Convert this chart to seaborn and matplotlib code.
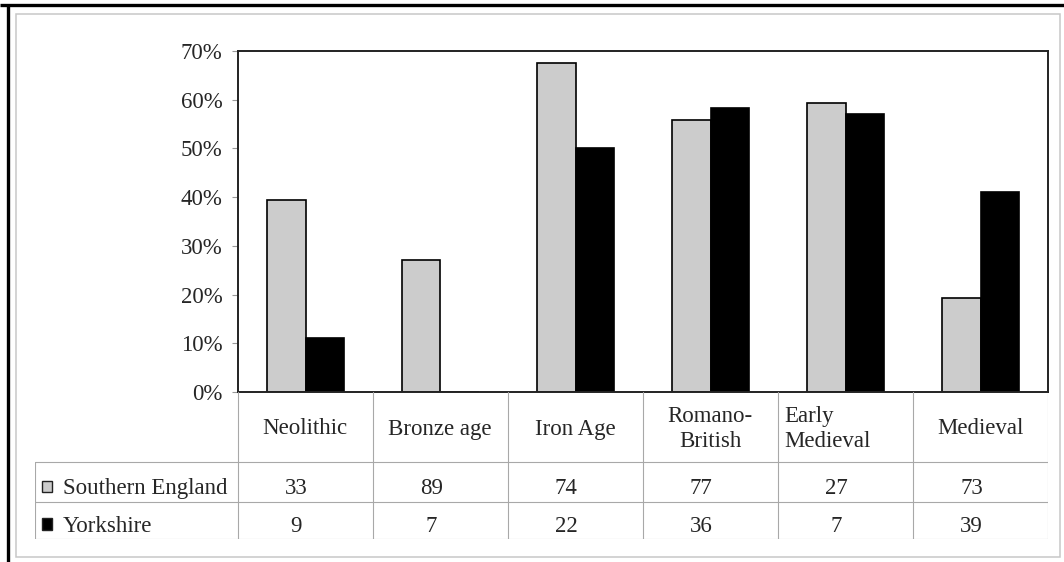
import numpy as np
import pandas as pd
import matplotlib
matplotlib.use("Agg")
import matplotlib.pyplot as plt
from matplotlib.patches import Rectangle
import seaborn as sns

# data (share of sites, %) and the table counts
periods = ["Neolithic", "Bronze age", "Iron Age", "Romano-\nBritish", "Early\nMedieval", "Medieval"]
regions = ["Southern England", "Yorkshire"]
pct_south = [39.4, 27.0, 67.6, 55.8, 59.3, 19.2]
pct_yorks = [11.1, 0.0, 50.0, 58.3, 57.1, 41.0]
n_south = [33, 89, 74, 77, 27, 73]
n_yorks = [9, 7, 22, 36, 7, 39]
y_ticks = [0, 10, 20, 30, 40, 50, 60, 70]
colors = ["#cccccc", "#000000"]
label_align = ["center", "center", "center", "center", "left", "center"]

df = pd.DataFrame({
    "period": periods * 2,
    "region": [regions[0]] * len(periods) + [regions[1]] * len(periods),
    "pct": pct_south + pct_yorks,
})

sns.set_style("white")
plt.rcParams["font.family"] = ["Liberation Serif", "DejaVu Serif"]
FS = 16.5

W, H = 1064, 562
fig = plt.figure(figsize=(W / 100, H / 100), dpi=100)


def px_box(x0, y0, x1, y1):
    return [x0 / W, 1 - y1 / H, (x1 - x0) / W, (y1 - y0) / H]


# background frame (black top/left edge, light grey inner border)
bg = fig.add_axes([0, 0, 1, 1])
bg.set_xlim(0, W)
bg.set_ylim(H, 0)
bg.axis("off")
bg.plot([0, W], [5, 5], color="black", lw=2.4, solid_capstyle="butt")
bg.plot([7.5, 7.5], [4, H], color="black", lw=2.4, solid_capstyle="butt")
bg.add_patch(Rectangle((16, 14), 1060 - 16, 557 - 14, fill=False, edgecolor="#c8c8c8", lw=1.1))

# main bar chart
ax = fig.add_axes(px_box(238, 51, 1048, 392))
sns.barplot(data=df, x="period", y="pct", hue="region", order=periods, hue_order=regions,
            palette=colors, saturation=1, width=0.57, errorbar=None,
            edgecolor="black", linewidth=1.2, legend=False, ax=ax)
ax.set_xlim(-0.5, len(periods) - 0.5)
ax.set_ylim(0, 70)
ax.set_yticks(y_ticks)
ax.set_yticklabels([f"{v}%" for v in y_ticks], fontsize=FS, va="center_baseline")
ax.set_xticks([])
ax.set_xlabel("")
ax.set_ylabel("")
for sp in ax.spines.values():
    sp.set_visible(True)
    sp.set_color("#222222")
    sp.set_linewidth(1.4)
ax.tick_params(axis="y", left=True, length=4.3, width=0.8, color="#999999", pad=7, direction="out")

# data table under the chart
tax = fig.add_axes(px_box(35, 392, 1048, 539))
tax.set_xlim(-2.0, len(periods) - 0.5)
tax.set_ylim(147, 0)
tax.axis("off")
px = (len(periods) + 1.5) / (1048 - 35)  # data units per pixel
grid_kw = dict(color="#a8a8a8", lw=0.8)

for yy in [70, 110, 147]:
    tax.plot([-2.0, len(periods) - 0.5], [yy, yy], **grid_kw)
tax.plot([-2.0, -2.0], [70, 147], **grid_kw)
for i in range(len(periods) + 1):
    tax.plot([i - 0.5, i - 0.5], [0, 147], **grid_kw)

for i, p in enumerate(periods):
    xx = i if label_align[i] == "center" else i - 0.5 + 6 * px
    tax.text(xx, 37, p, ha=label_align[i], va="center", fontsize=FS, multialignment=label_align[i],
             linespacing=1.3)
    tax.text(i - 9 * px, 102, str(n_south[i]), ha="center", va="baseline", fontsize=FS)
    tax.text(i - 9 * px, 139.5, str(n_yorks[i]), ha="center", va="baseline", fontsize=FS)

for k, (name, col, base) in enumerate(zip(regions, colors, [102, 139.5])):
    tax.add_patch(Rectangle((-2.0 + 7 * px, base - 13.5), 10 * px, 11.5,
                            facecolor=col, edgecolor="#222222", lw=1.0))
    tax.text(-2.0 + 28 * px, base, name, ha="left", va="baseline", fontsize=FS)

fig.savefig("out.png", dpi=100)
